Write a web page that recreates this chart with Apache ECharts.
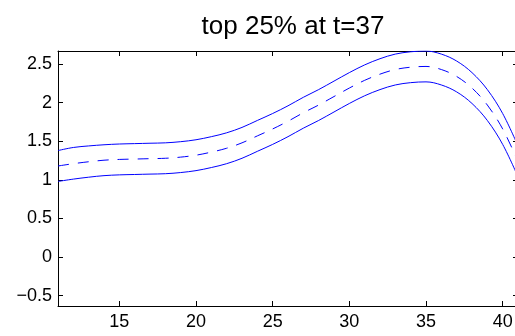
<!DOCTYPE html>
<html>
<head>
<meta charset="utf-8">
<script src="https://cdn.jsdelivr.net/npm/echarts@6/dist/echarts.min.js"></script>
<style>
    html, body { margin: 0; padding: 0; background: #fff; }
    #chart { width: 515px; height: 336px; }
</style>
</head>
<body>
<div id="chart"></div>
<script>
"use strict";
// values
var xValues = [11, 12, 13, 14, 15, 16, 17, 18, 19, 20, 21, 22, 23, 24, 25, 26, 27, 28, 29, 30, 31, 32, 33, 34, 35, 36, 37, 38, 39, 40, 41];
var meanValues = [1.18, 1.21, 1.235, 1.255, 1.265, 1.27, 1.275, 1.28, 1.295, 1.32, 1.36, 1.41, 1.48, 1.57, 1.66, 1.76, 1.87, 1.97, 2.08, 2.19, 2.29, 2.37, 2.43, 2.46, 2.47, 2.43, 2.34, 2.19, 1.97, 1.66, 1.24];
var upperValues = [1.38, 1.42, 1.44, 1.455, 1.465, 1.47, 1.475, 1.48, 1.495, 1.52, 1.56, 1.61, 1.68, 1.77, 1.86, 1.96, 2.07, 2.17, 2.28, 2.39, 2.49, 2.57, 2.63, 2.66, 2.67, 2.63, 2.54, 2.39, 2.17, 1.86, 1.44];
var lowerValues = [0.98, 1.01, 1.035, 1.055, 1.065, 1.07, 1.075, 1.08, 1.095, 1.12, 1.16, 1.21, 1.28, 1.37, 1.46, 1.56, 1.67, 1.77, 1.88, 1.99, 2.09, 2.17, 2.23, 2.26, 2.27, 2.23, 2.14, 1.99, 1.77, 1.46, 1.04];
var xTicks = [15, 20, 25, 30, 35, 40];
var yTicks = [-0.5, 0, 0.5, 1, 1.5, 2, 2.5];
var titleText = 'top 25% at t=37';

var FONT = '"Liberation Sans", Arial, Helvetica, sans-serif';

function pairs(xs, ys) {
    var out = [];
    for (let i = 0; i < xs.length; i++) {
        out.push([xs[i], ys[i]]);
    }
    return out
}

function fmt(v) {
    //matlab style minus sign
    return v < 0 ? '\u2212' + String(-v) : String(v);
}

function axisBase(show) {
    return {
        axisLine: { show: true, onZero: false, lineStyle: { color: '#000', width: 1 } },
        axisTick: { show: true, inside: true, length: 5, lineStyle: { color: '#000', width: 1 } },
        splitLine: { show: false },
        axisLabel: { show: show }
    }
}

var myChart = echarts.init(document.getElementById('chart'), null, { renderer: 'canvas' });

var xBottom = axisBase(true);
xBottom.type = 'value';
xBottom.min = 11;
xBottom.max = 41;
xBottom.position = 'bottom';
xBottom.axisTick.customValues = xTicks;
xBottom.axisLabel = { show: true, customValues: xTicks, color: '#000', fontFamily: FONT, fontSize: 18, margin: 7, formatter: fmt };

var xTop = axisBase(false);
xTop.type = 'value';
xTop.min = 11;
xTop.max = 41;
xTop.position = 'top';
xTop.axisTick.customValues = xTicks;

var yLeft = axisBase(true);
yLeft.type = 'value';
yLeft.min = -0.634;
yLeft.max = 2.67;
yLeft.position = 'left';
yLeft.axisTick.customValues = yTicks;
yLeft.axisLabel = { show: true, customValues: yTicks, color: '#000', fontFamily: FONT, fontSize: 18, margin: 6, formatter: fmt };

var yRight = axisBase(false);
yRight.type = 'value';
yRight.min = -0.634;
yRight.max = 2.67;
yRight.position = 'right';
yRight.axisTick.customValues = yTicks;

function lineSeries(data, dashed) {
    return {
        type: 'line',
        data: data,
        smooth: 0.35,
        showSymbol: false,
        silent: true,
        animation: false,
        clip: true,
        lineStyle: { color: '#0000ff', width: 1, type: dashed ? [11, 9] : 'solid' }
    }
}

myChart.setOption({
    animation: false,
    backgroundColor: '#fff',
    title: {
        text: titleText,
        left: 288,
        textAlign: 'center',
        top: 9,
        textStyle: { color: '#000', fontFamily: FONT, fontSize: 26, fontWeight: 'normal' }
    },
    grid: { left: 58, top: 51, right: -3, bottom: 30, containLabel: false, outerBoundsMode: 'none' },
    xAxis: [xBottom, xTop],
    yAxis: [yLeft, yRight],
    series: [
        lineSeries(pairs(xValues, upperValues), false),
        lineSeries(pairs(xValues, meanValues), true),
        lineSeries(pairs(xValues, lowerValues), false)
    ]
});
</script>
</body>
</html>
